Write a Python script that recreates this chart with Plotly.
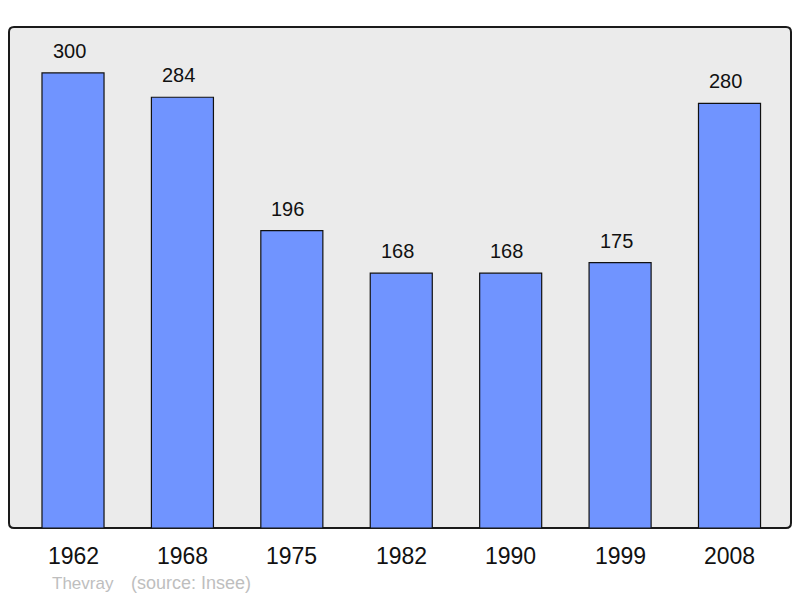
import plotly.graph_objects as go

years = ["1962", "1968", "1975", "1982", "1990", "1999", "2008"]
population = [300, 284, 196, 168, 168, 175, 280]
commune_label = "Thevray"
source_label = "(source: Insee)"

# page has an 8px body margin; figure occupies (8,8)-(800,598)
OFF = 8
W, H = 800 - OFF, 598 - OFF
L, R, T, B = 9 - OFF, 9, 27 - OFF, 70
pw, ph = W - L - R, H - T - B

xpos = list(range(len(years)))

fig = go.Figure()
fig.add_trace(go.Bar(
    x=xpos, y=population, width=0.567,
    marker=dict(color="#7094FF", line=dict(color="#111111", width=1.2)),
    hoverinfo="skip",
))

# rounded frame
rx, ry = 5 / pw, 5 / ph
path = (f"M {rx},0 L {1-rx},0 Q 1,0 1,{ry} L 1,{1-ry} Q 1,1 {1-rx},1 "
        f"L {rx},1 Q 0,1 0,{1-ry} L 0,{ry} Q 0,0 {rx},0 Z")
fig.add_shape(type="path", path=path, xref="paper", yref="paper",
              line=dict(color="#1a1a1a", width=2), fillcolor="#EBEBEB", layer="below")

font_family = "Liberation Sans, Arial"
anns = []
for i, (yr, v) in enumerate(zip(years, population)):
    anns.append(dict(x=i, y=v, xref="x", yref="y", text=str(v), showarrow=False,
                     yshift=22, xshift=-4, yanchor="middle",
                     font=dict(family=font_family, size=20, color="#111")))
    anns.append(dict(x=i, y=0, xref="x", yref="paper", text=yr, showarrow=False,
                     yshift=-28, yanchor="middle",
                     font=dict(family=font_family, size=23, color="#111")))
for txt, px, fs in [(commune_label, 50, 17), (source_label, 129, 18)]:
    anns.append(dict(x=(px - OFF - L) / pw, y=(598 - B - 583) / ph, xref="paper", yref="paper",
                     text=txt, showarrow=False, xanchor="left", yanchor="middle",
                     font=dict(family=font_family, size=fs, color="#BEBEBE")))

fig.update_layout(
    width=W, height=H,
    margin=dict(l=L, r=R, t=T, b=B, pad=0),
    paper_bgcolor="white", plot_bgcolor="rgba(0,0,0,0)",
    showlegend=False,
    xaxis=dict(range=[-0.585, 6.562], showgrid=False, zeroline=False,
               showticklabels=False, fixedrange=True),
    yaxis=dict(range=[0, 330.3], showgrid=False, zeroline=False,
               showticklabels=False, fixedrange=True),
    annotations=anns,
)
fig.write_html("out.html", config={"displayModeBar": False})
